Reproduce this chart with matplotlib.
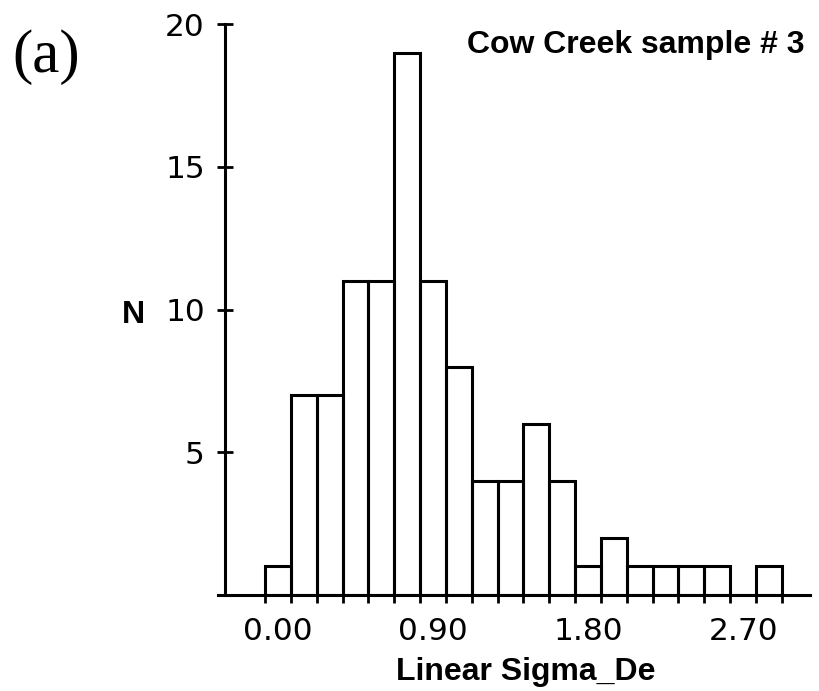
import matplotlib
matplotlib.use("Agg")
import matplotlib.pyplot as plt
import numpy as np

# Histogram of linear sigma_De, bin width 0.15, bins centred on multiples of 0.15
bin_width = 0.15
counts = [1, 7, 7, 11, 11, 19, 11, 8, 4, 4, 6, 4, 1, 2, 1, 1, 1, 1, 0, 1]
x_tick_values = [0.0, 0.9, 1.8, 2.7]
x_tick_labels = ["0.00", "0.90", "1.80", "2.70"]
y_tick_values = [5, 10, 15, 20]
y_tick_labels = ["5", "10", "15", "20"]

centers = np.arange(len(counts)) * bin_width
edges = np.arange(len(counts) + 1) * bin_width - bin_width / 2

W, H = 820, 691
fig = plt.figure(figsize=(W / 100, H / 100), dpi=100)

# axes box in pixels (left, right, baseline, top measured from top-left)
px_left, px_right, px_base, px_top = 218, 810, 595, 24
ax = fig.add_axes([px_left / W, (H - px_base) / H,
                   (px_right - px_left) / W, (px_base - px_top) / H])

scale = 172.3  # pixels per unit of sigma_De
origin_px = 277.9
x_lo = (px_left - origin_px) / scale
x_hi = (px_right - origin_px) / scale
y_axis_x = (225 - origin_px) / scale

lw = 2.2
ax.bar(centers, counts, width=bin_width, fill=False, edgecolor="black",
       linewidth=lw, align="center", zorder=3)

ax.set_xlim(x_lo, x_hi)
ax.set_ylim(0, 20)

for side in ("top", "right"):
    ax.spines[side].set_visible(False)
ax.spines["left"].set_position(("data", y_axis_x))
ax.spines["left"].set_linewidth(lw)
ax.spines["bottom"].set_linewidth(lw)

tick_font = dict(family="DejaVu Sans", size=22.5)

# x: ticks at every bin edge, labels at selected bin centres
ax.set_xticks(edges)
ax.set_xticklabels([])
ax.tick_params(axis="x", which="major", direction="out", length=6, width=2)
ax.set_xticks(x_tick_values, minor=True)
ax.set_xticklabels(x_tick_labels, minor=True, fontdict=tick_font)
ax.tick_params(axis="x", which="minor", length=0, pad=15.5)

ax.set_yticks(y_tick_values)
ax.set_yticklabels(y_tick_labels, fontdict=tick_font)
ax.tick_params(axis="y", direction="inout", length=11, width=2, pad=9)

fig.text(526 / W, (H - 680) / H, "Linear Sigma_De", ha="center", va="baseline",
         family="Liberation Sans", weight="bold", size=23)
fig.text(122 / W, (H - 323) / H, "N", ha="left", va="baseline",
         family="Liberation Sans", weight="bold", size=23)
fig.text(805 / W, (H - 53) / H, "Cow Creek sample # 3", ha="right", va="baseline",
         family="Liberation Sans", weight="bold", size=23)
fig.text(12 / W, (H - 72) / H, "(a)", ha="left", va="baseline",
         family="Liberation Serif", size=44)

fig.savefig("out.png", dpi=100)
